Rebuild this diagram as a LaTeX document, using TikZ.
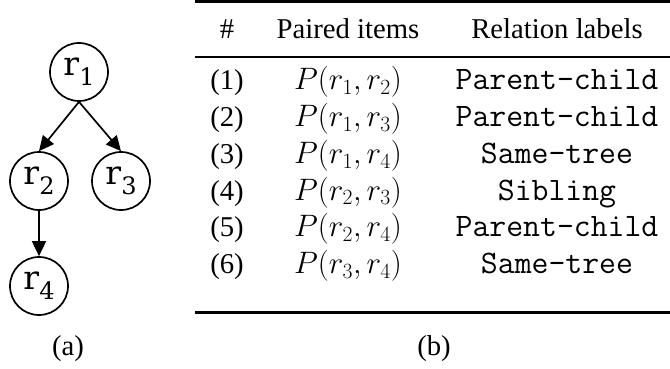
\documentclass[tikz,border=0pt]{standalone}
\usepackage{fix-cm}
\usepackage{fontspec}
\setmainfont{Liberation Serif}
\newfontfamily\nodefont{DejaVu Serif}
\usetikzlibrary{arrows.meta}

% vertex label: upright r with a lowered index
\newcommand\rlab[1]{r\raisebox{-0.3em}{\fontsize{24}{24}\selectfont #1}}

\tikzset{
  vertex/.style={circle, draw, line width=1.7pt, minimum size=58pt, inner sep=0pt,
    font=\nodefont\fontsize{33}{33}\selectfont},
  edge/.style={line width=1.7pt, -{Triangle[length=15pt,width=14pt]}},
  cell/.style={anchor=base, inner sep=0pt, font=\fontsize{28.7}{34}\selectfont},
  mathcell/.style={anchor=base, inner sep=0pt, font=\fontsize{31}{36}\selectfont},
  labelcell/.style={anchor=base, inner sep=0pt, font=\ttfamily\fontsize{32.8}{36}\selectfont},
  caption/.style={anchor=base, inner sep=0pt, font=\fontsize{28.7}{34}\selectfont},
  heavyrule/.style={line width=3pt},
  lightrule/.style={line width=1.8pt},
}

\begin{document}
\begin{tikzpicture}[x=1pt, y=-1pt]
  \useasboundingbox (0,0) rectangle (670,369);

  % (a) tree
  \node[vertex] (r1) at (79,72)  {\rlab{1}};
  \node[vertex] (r2) at (39,181) {\rlab{2}};
  \node[vertex] (r3) at (121,181) {\rlab{3}};
  \node[vertex] (r4) at (39,286) {\rlab{4}};
  \draw[edge] (r1.south) -- (r2.north);
  \draw[edge] (r1.south) -- (r3.north);
  \draw[edge] (r2) -- (r4);
  \node[caption] (capa) at (68,355) {(a)};

  % (b) table
  \draw[heavyrule] (195,1.5) -- (670,1.5);
  \draw[lightrule] (195,57) -- (670,57);
  \draw[heavyrule] (195,312) -- (670,312);

  \node[cell] (h1) at (227,39) {\#};
  \node[cell] (h2) at (348,39) {Paired items};
  \node[cell] (h3) at (557,39) {Relation labels};

  \foreach \i/\n/\a/\b/\lab in {1/1/1/2/Parent-child, 2/2/1/3/Parent-child,
      3/3/1/4/Same-tree, 4/4/2/3/Sibling, 5/5/2/4/Parent-child, 6/6/3/4/Same-tree}{
    \pgfmathsetmacro\yy{90+36.7*(\i-1)}
    \node[cell] (n\i) at (227,\yy) {(\n)};
    \node[mathcell] (p\i) at (348,\yy) {$P(r_{\a},r_{\b})$};
    \node[labelcell] (l\i) at (557,\yy) {\lab};
  }
  \node[caption] (capb) at (434,355) {(b)};
\end{tikzpicture}
\end{document}
